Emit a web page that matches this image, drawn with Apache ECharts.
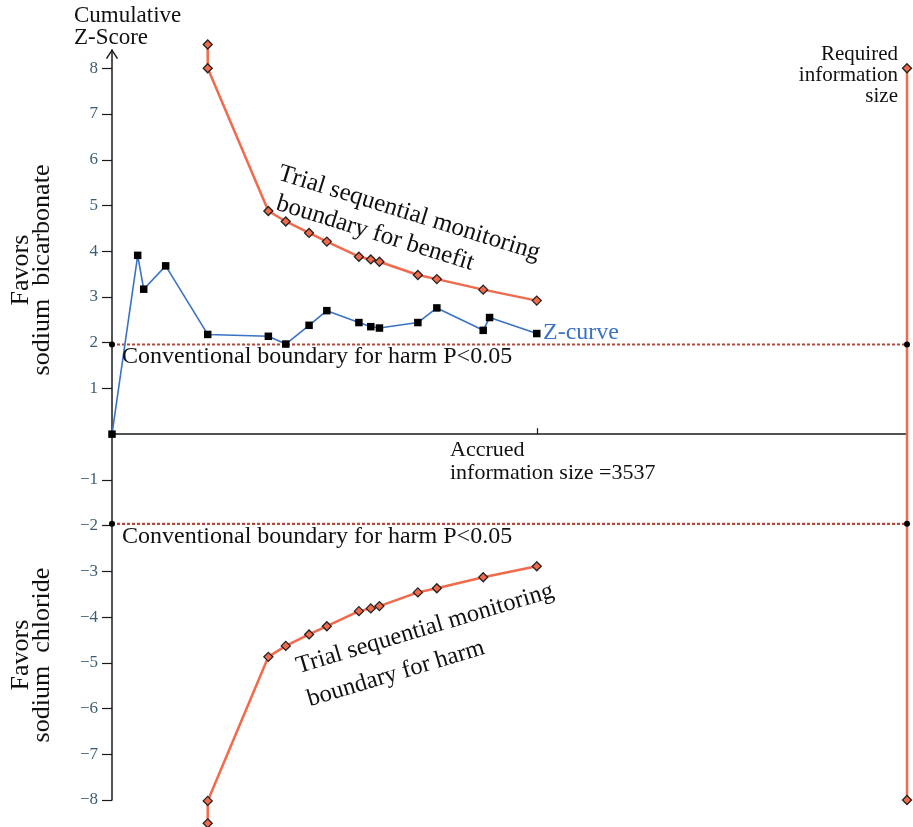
<!DOCTYPE html>
<html>
<head>
<meta charset="utf-8">
<script src="https://cdn.jsdelivr.net/npm/echarts@6/dist/echarts.min.js"></script>
<style>html,body{margin:0;padding:0;background:#fff;}#c{width:913px;height:827px;}</style>
</head>
<body>
<div id="c"></div>
<script>
// Cumulative information (patients) at each trial
var zInfo = [0, 214, 264, 447, 797, 1302, 1447, 1641, 1789, 2056, 2155, 2227, 2547, 2705, 3091, 3144, 3537];
var zScore = [0, 3.91, 3.17, 3.68, 2.18, 2.14, 1.97, 2.38, 2.70, 2.44, 2.35, 2.32, 2.44, 2.76, 2.27, 2.55, 2.20];
// Trial sequential monitoring boundaries
var bInfo = [797, 797, 1302, 1447, 1641, 1789, 2056, 2155, 2227, 2547, 2705, 3091, 3537];
var benefitZ = [8.52, 8.0, 4.88, 4.65, 4.40, 4.21, 3.88, 3.82, 3.77, 3.48, 3.39, 3.16, 2.92];
var harmZ = [-8.51, -8.02, -4.87, -4.63, -4.38, -4.20, -3.87, -3.81, -3.76, -3.46, -3.37, -3.13, -2.89];
var requiredInfo = 6620;
var accruedInfo = 3537;
var riZ = [8, -8];
var conventionalZ = 1.96;
var yTicks = [-8, -7, -6, -5, -4, -3, -2, -1, 1, 2, 3, 4, 5, 6, 7, 8];

function pairs(xs, ys) { return xs.map(function (x, i) { return [x, ys[i]]; }); }

var FONT = 'Liberation Serif';
var orange = '#f26a4c';
var chart = echarts.init(document.getElementById('c'), null, {renderer: 'canvas'});

function txt(text, x, y, opt) {
  opt = opt || {};
  return {
    type: 'text', x: x, y: y, rotation: opt.rotation || 0, z: 100,
    style: {
      text: text, fill: opt.color || '#111', font: (opt.size || 24) + 'px "' + FONT + '"',
      align: opt.align || 'left', verticalAlign: opt.va || 'middle', lineHeight: opt.lh || 22
    }
  };
}

var option = {
  animation: false,
  backgroundColor: '#ffffff',
  grid: {left: 112, right: 6, top: 50, bottom: 27, containLabel: false},
  xAxis: {
    type: 'value', min: 0, max: requiredInfo,
    axisLine: {show: true, onZero: true, lineStyle: {color: '#1a1a1a', width: 1.5}},
    axisTick: {show: true, inside: true, length: 6, customValues: [accruedInfo], lineStyle: {color: '#1a1a1a', width: 1.2}},
    axisLabel: {show: false},
    splitLine: {show: false}
  },
  yAxis: {
    type: 'value', min: -8, max: 8.4,
    axisLine: {show: true, onZero: false, lineStyle: {color: '#1a1a1a', width: 1.5},
      symbol: ['none', 'path://M0,9 L6,0 L12,9 L10.8,9.8 L6,2.4 L1.2,9.8 Z'], symbolSize: [14, 10], symbolOffset: [0, -4]},
    axisTick: {show: true, length: 10, customValues: yTicks, lineStyle: {color: '#1a1a1a', width: 1.2}},
    axisLabel: {show: true, customValues: yTicks, margin: 14, color: '#3e5e72', fontFamily: FONT, fontSize: 17,
      formatter: function (v) { return String(v).replace('-', '\u2212'); }},
    splitLine: {show: false}
  },
  series: [
    {
      type: 'line', name: 'conv+', data: [[0, conventionalZ], [requiredInfo, conventionalZ]],
      clip: false, symbol: 'circle', symbolSize: 6, itemStyle: {color: '#000'},
      lineStyle: {color: '#b9483c', width: 2.2, type: [3, 2]}, z: 3
    },
    {
      type: 'line', name: 'conv-', data: [[0, -conventionalZ], [requiredInfo, -conventionalZ]],
      clip: false, symbol: 'circle', symbolSize: 6, itemStyle: {color: '#000'},
      lineStyle: {color: '#b9483c', width: 2.2, type: [3, 2]}, z: 3
    },
    {
      type: 'line', name: 'RIS', data: pairs([requiredInfo, requiredInfo], riZ),
      clip: false, symbol: 'diamond', symbolSize: 9,
      itemStyle: {color: orange, borderColor: '#222', borderWidth: 1.3},
      lineStyle: {color: orange, width: 2.5}, z: 2
    },
    {
      type: 'line', name: 'benefit', data: pairs(bInfo, benefitZ),
      clip: false, symbol: 'diamond', symbolSize: 9,
      itemStyle: {color: orange, borderColor: '#222', borderWidth: 1.3},
      lineStyle: {color: orange, width: 2.5}, z: 4
    },
    {
      type: 'line', name: 'harm', data: pairs(bInfo, harmZ),
      clip: false, symbol: 'diamond', symbolSize: 9,
      itemStyle: {color: orange, borderColor: '#222', borderWidth: 1.3},
      lineStyle: {color: orange, width: 2.5}, z: 4
    },
    {
      type: 'line', name: 'Z-curve', data: pairs(zInfo, zScore),
      clip: false, symbol: 'rect', symbolSize: 7.5, itemStyle: {color: '#000'},
      lineStyle: {color: '#3a72c4', width: 1.6}, z: 5
    }
  ],
  graphic: [
    txt('Cumulative\nZ-Score', 74, 5, {va: 'top', size: 23, lh: 22}),
    txt('Favors\nsodium  bicarbonate', 32, 270, {align: 'center', rotation: Math.PI / 2, size: 26, lh: 21}),
    txt('Favors\nsodium  chloride', 32, 655, {align: 'center', rotation: Math.PI / 2, size: 26, lh: 21}),
    txt('Trial sequential monitoring', 279, 173, {rotation: -0.3, size: 25}),
    txt('boundary for benefit', 277, 203, {rotation: -0.3, size: 25}),
    txt('Trial sequential monitoring', 297, 667, {rotation: 0.29, size: 24.5}),
    txt('boundary for harm', 308, 700, {rotation: 0.29, size: 24.5}),
    txt('Z-curve', 543, 333, {color: '#3a72c4', size: 24}),
    txt('Conventional boundary for harm P<0.05', 122, 357, {size: 24}),
    txt('Conventional boundary for harm P<0.05', 122, 537, {size: 24}),
    txt('Accrued\ninformation size =3537', 450, 439, {va: 'top', size: 22, lh: 23}),
    txt('Required\ninformation\nsize', 898, 44, {align: 'right', va: 'top', size: 21, lh: 21})
  ]
};
chart.setOption(option);
</script>
</body>
</html>
